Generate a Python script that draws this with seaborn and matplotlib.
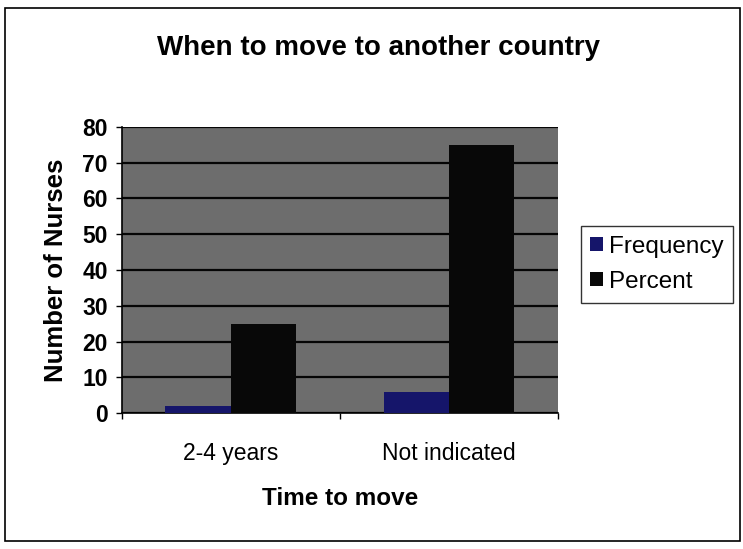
import matplotlib
matplotlib.use("Agg")
import matplotlib.pyplot as plt
import matplotlib.patches as mpatches
import seaborn as sns
import pandas as pd

# Survey results: when nurses plan to move abroad
categories = ["2-4 years", "Not indicated"]
frequency = [2, 6]
percent = [25, 75]
series_names = ["Frequency", "Percent"]
y_ticks = [0, 10, 20, 30, 40, 50, 60, 70, 80]

df = pd.DataFrame({
    "Time to move": categories * 2,
    "value": frequency + percent,
    "series": [series_names[0]] * len(categories) + [series_names[1]] * len(categories),
})

sns.set_theme(style="white")
plt.rcParams["font.family"] = ["Liberation Sans", "DejaVu Sans"]
plt.rcParams["text.color"] = "black"
plt.rcParams["axes.labelcolor"] = "black"
plt.rcParams["xtick.color"] = "black"
plt.rcParams["ytick.color"] = "black"

fig = plt.figure(figsize=(7.43, 5.49), dpi=100)
ax = fig.add_axes([0.164, 0.2477, 0.587, 0.521])

palette = {"Frequency": "#15156a", "Percent": "#080808"}
sns.barplot(data=df, x="Time to move", y="value", hue="series", order=categories,
            hue_order=series_names, palette=palette, width=0.6, saturation=1,
            edgecolor="none", ax=ax, zorder=3)

ax.set_facecolor("#6d6d6d")
ax.set_ylim(0, 80)
ax.set_xlim(-0.5, 1.5)
ax.set_yticks(y_ticks)
ax.set_yticklabels([str(t) for t in y_ticks], fontsize=16.5, fontweight="bold")
for t in y_ticks:
    ax.axhline(t, color="#050505", lw=1.6, zorder=1)

ax.tick_params(axis="y", direction="out", length=4, width=1, color="black", pad=6, left=True)
ax.tick_params(axis="x", which="major", length=0, labelsize=16.5, pad=21)
ax.set_xticks([-0.5, 0.5, 1.5], minor=True)
ax.tick_params(axis="x", which="minor", direction="out", length=4, width=1, color="black", bottom=True)

for side in ["top", "right"]:
    ax.spines[side].set_visible(False)
for side in ["left", "bottom"]:
    ax.spines[side].set_color("black")
    ax.spines[side].set_linewidth(1.2)

ax.set_xlabel("Time to move", fontsize=17.5, fontweight="bold", labelpad=16)
ax.set_ylabel("Number of Nurses", fontsize=18.5, fontweight="bold", labelpad=10)

leg = ax.legend(loc="center left", bbox_to_anchor=(1.052, 0.52), frameon=True,
                fontsize=17.5, handlelength=0.5, handleheight=0.5, handletextpad=0.25,
                borderpad=0.4, labelspacing=0.55, fancybox=False, borderaxespad=0)
leg.get_frame().set_edgecolor("black")
leg.get_frame().set_linewidth(1.0)

fig.text(0.51, 0.912, "When to move to another country", ha="center", va="center",
         fontsize=20, fontweight="bold")

# Outer chart frame
fig.patches.append(mpatches.Rectangle((0.007, 0.015), 0.989, 0.97, transform=fig.transFigure,
                                      fill=False, edgecolor="black", lw=1.2))

fig.savefig("out.png", dpi=100)
